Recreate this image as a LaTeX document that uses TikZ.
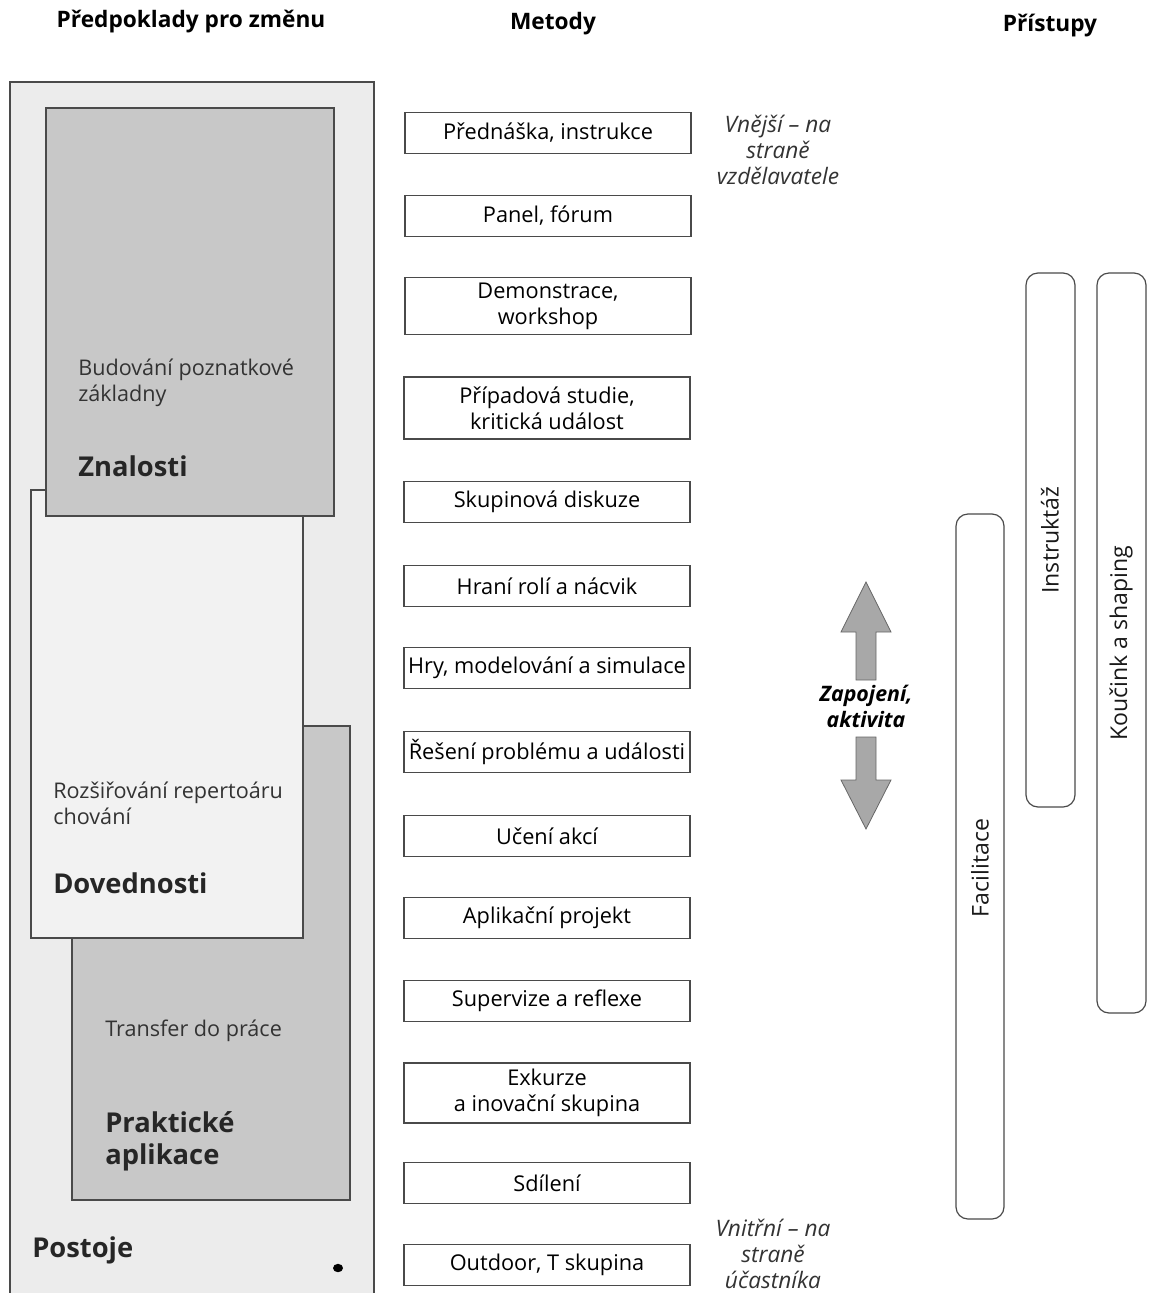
\documentclass[tikz,border=0pt]{standalone}
\usepackage{fontspec}
\setmainfont{Open Sans}
\definecolor{outerfill}{HTML}{ECECEC}
\definecolor{lightfill}{HTML}{F2F2F2}
\definecolor{darkfill}{HTML}{C8C8C8}
\definecolor{edge}{HTML}{4A4A4A}
\definecolor{arrowfill}{HTML}{A8A8A8}
\begin{document}
\begin{tikzpicture}[x=0.75pt,y=-0.75pt,
  panel/.style={draw=edge, line width=0.9pt},
  method/.style={draw=edge, line width=0.9pt, fill=white, minimum width=214.5pt,
     align=center, inner sep=2pt, font=\fontsize{16.3}{19.5}\selectfont},
  head/.style={font=\fontsize{17}{19}\selectfont\bfseries},
  small/.style={anchor=west, align=left, inner sep=0pt, font=\fontsize{16.2}{19.5}\selectfont\color{black!80}},
  big/.style={anchor=west, align=left, inner sep=0pt, font=\fontsize{20.5}{24}\selectfont\bfseries\color{black!85}},
  side/.style={align=center, inner sep=0pt, font=\fontsize{17}{19.5}\selectfont\itshape\color{black!80}},
  bar/.style={draw=edge, line width=0.9pt, rounded corners=9pt},
  barlabel/.style={rotate=90, inner sep=0pt, font=\fontsize{17.3}{19}\selectfont\color{black!90}},
  arrowpart/.style={fill=arrowfill, draw=black!60, line width=0.6pt, line join=miter}
]
\useasboundingbox (0,0) rectangle (1149,1293);

% headers
\node[head] (h1) at (191,22) {Předpoklady pro změnu};
\node[head] (h2) at (553,24) {Metody};
\node[head] (h3) at (1050,26) {Přístupy};

% left panels
\fill[outerfill] (10,1293) -- (10,82) -- (374,82) -- (374,1293) -- cycle;
\draw[panel] (10,1293) -- (10,82) -- (374,82) -- (374,1293);
\draw[panel, fill=darkfill] (72,726) rectangle (350,1200);
\draw[panel, fill=lightfill] (31,490) rectangle (303,938);
\draw[panel, fill=darkfill] (46,108) rectangle (334,516);
\fill[black] (338,1268) ellipse (5 and 4.2);

\node[small] (t1) at (78,383) {Budování poznatkové\\základny};
\node[big] (z) at (78,466) {Znalosti};
\node[small] (t2) at (53,803) {Rozšiřování repertoáru\\chování};
\node[big] (d) at (53,883) {Dovednosti};
\node[small] (t3) at (105,1031) {Transfer do práce};
\node[big] (p) at (105,1141) {Praktické\\aplikace};
\node[big] (po) at (32,1250) {Postoje};

% methods
\node[method, minimum height=30.75pt] (m1) at (548,133) {Přednáška, instrukce};
\node[method, minimum height=30.75pt] (m2) at (548,216) {Panel, fórum};
\node[method, minimum height=42.75pt] (m3) at (548,306) {Demonstrace,\\workshop};
\node[method, minimum height=46.5pt] (m4) at (547,408) {Případová studie,\\kritická událost};
\node[method, minimum height=30.75pt] (m5) at (547,502) {Skupinová diskuze};
\node[method, minimum height=30.75pt] (m6) at (547,586) {Hraní rolí a nácvik};
\node[method, minimum height=30.75pt] (m7) at (547,668) {Hry, modelování a simulace};
\node[method, minimum height=30.75pt] (m8) at (547,752) {Řešení problému a události};
\node[method, minimum height=30.75pt] (m9) at (547,836) {Učení akcí};
\node[method, minimum height=30.75pt] (m10) at (547,918) {Aplikační projekt};
\node[method, minimum height=30.75pt] (m11) at (547,1001) {Supervize a reflexe};
\node[method, minimum height=45pt] (m12) at (547,1093) {Exkurze\\a inovační skupina};
\node[method, minimum height=30.75pt] (m13) at (547,1183) {Sdílení};
\node[method, minimum height=30.75pt] (m14) at (547,1265) {Outdoor, T skupina};

% side texts
\node[side] (s1) at (778,150) {Vnější – na\\straně\\vzdělavatele};
\node[side] (s2) at (773,1254) {Vnitřní – na\\straně\\účastníka};

% arrow
\draw[arrowpart] (866,582) -- (891,632) -- (876,632) -- (876,680) -- (856,680) -- (856,632) -- (841,632) -- cycle;
\draw[arrowpart] (856,737) -- (876,737) -- (876,780) -- (891,780) -- (866,829) -- (841,780) -- (856,780) -- cycle;
\node[align=center, inner sep=0pt, font=\fontsize{16}{19.5}\selectfont\bfseries\itshape] (za) at (866,706) {Zapojení,\\aktivita};

% approach bars
\draw[bar] (1026,273) rectangle (1075,807);
\draw[bar] (1097,273) rectangle (1146,1013);
\draw[bar] (956,514) rectangle (1004,1219);
\node[barlabel] (b1) at (1050,540) {Instruktáž};
\node[barlabel] (b2) at (1121,643) {Koučink a shaping};
\node[barlabel] (b3) at (980,868) {Facilitace};
\end{tikzpicture}
\end{document}
